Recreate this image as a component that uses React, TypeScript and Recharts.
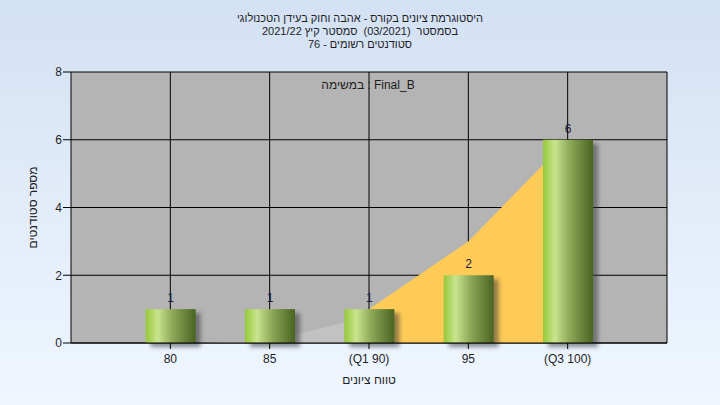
import React from 'react';
import { ComposedChart, Bar, Area, XAxis, YAxis, CartesianGrid, LabelList } from 'recharts';

const categories = [80, 85, 90, 95, 100];
const tickLabels = ['80', '85', '(Q1 90)', '95', '(Q3 100)'];
const counts = [1, 1, 1, 2, 6];
const lowerArea: (number | null)[] = [0, 0.05, 0.8, null, null];
const upperArea: (number | null)[] = [null, null, 1, 3, 6];
const yTicks = [0, 2, 4, 6, 8];

const titleLines = [
  ['היסטוגרמת', 'ציונים', 'בקורס', '-', 'אהבה', 'וחוק', 'בעידן', 'הטכנולוגי'],
  ['בסמסטר', '(03/2021)', 'סמסטר', 'קיץ', '2021/22'],
  ['סטודנטים', 'רשומים', '-', '76'],
];
const subtitleWords = ['במשימה', ':', 'Final_B'];
const xTitle = ['טווח', 'ציונים'];
const yTitle = ['מספר', 'סטודנטים'];

const data = categories.map((c, i) => ({
  x: c,
  count: counts[i],
  lower: lowerArea[i],
  upper: upperArea[i],
}));

const FONT = '"Liberation Sans", Arial, sans-serif';
const TEXT = '#1e1e1e';

const BarShape = (props: any) => {
  const { x, y, width, height } = props;
  if (!height || height <= 0) return null;
  return (
    <g>
      <rect x={x + 5} y={y + 4} width={width} height={height} fill="#3a3a3a" opacity={0.55} filter="url(#shadowBlur)" />
      <rect x={x} y={y} width={width} height={height} fill="url(#barGrad)" />
    </g>
  );
};

const WordLine = ({ words, dir, style }: { words: string[]; dir: 'rtl' | 'ltr'; style: React.CSSProperties }) => (
  <div
    style={{
      position: 'absolute',
      display: 'flex',
      flexDirection: 'row',
      justifyContent: 'center',
      alignItems: 'center',
      direction: dir,
      columnGap: '0.27em',
      whiteSpace: 'pre',
      ...style,
    }}
  >
    {words.map((w, i) => (
      <span
        key={i}
        dir="auto"
        style={w.startsWith('(0') ? { margin: '0 0.27em' } : undefined}
      >
        {w}
      </span>
    ))}
  </div>
);

export default function App() {
  const tickFmt = (v: number) => {
    const i = categories.indexOf(v);
    return i >= 0 ? tickLabels[i] : '';
  };
  return (
    <div
      style={{
        position: 'fixed',
        left: 0,
        top: 0,
        width: 720,
        height: 405,
        background: 'linear-gradient(180deg, #D3E1F4 0%, #E2ECF9 50%, #EFF6FF 100%)',
        fontFamily: FONT,
        color: TEXT,
      }}
    >
      <ComposedChart
        width={720}
        height={405}
        data={data}
        margin={{ top: 72, right: 0, bottom: 32, left: 0 }}
        style={{ fontFamily: FONT }}
      >
        <defs>
          <linearGradient id="barGrad" x1="0" y1="0" x2="1" y2="0">
            <stop offset="0%" stopColor="#96C83A" />
            <stop offset="24%" stopColor="#C9E48E" />
            <stop offset="55%" stopColor="#8AA656" />
            <stop offset="100%" stopColor="#4A6422" />
          </linearGradient>
          <filter id="shadowBlur" x="-20%" y="-20%" width="140%" height="140%">
            <feGaussianBlur stdDeviation="2" />
          </filter>
        </defs>
        <CartesianGrid
          yAxisId="left"
          stroke="#000"
          strokeOpacity={1}
          strokeWidth={1}
          horizontalValues={yTicks}
          verticalValues={categories}
          fill="#B4B4B4"
          fillOpacity={1}
        />
        <XAxis
          dataKey="x"
          type="number"
          domain={[75, 105]}
          ticks={categories}
          tickFormatter={tickFmt}
          allowDataOverflow
          height={30}
          axisLine={{ stroke: '#000' }}
          tickLine={{ stroke: '#000' }}
          tickSize={6}
          tickMargin={5}
          tick={{ fill: TEXT, fontSize: 12 }}
          interval={0}
        />
        <YAxis
          yAxisId="left"
          domain={[0, 8]}
          ticks={yTicks}
          width={71}
          axisLine={{ stroke: '#000' }}
          tickLine={{ stroke: '#000' }}
          tickSize={8}
          tickMargin={1}
          tick={{ fill: TEXT, fontSize: 12 }}
        />
        <YAxis
          yAxisId="right"
          orientation="right"
          domain={[0, 8]}
          ticks={yTicks}
          width={53}
          axisLine={{ stroke: '#000', strokeOpacity: 1 }}
          tickLine={{ stroke: '#000' }}
          tickSize={8}
          tickMargin={2}
          tick={{ fill: TEXT, fontSize: 12 }}
        />
        <Area
          yAxisId="left"
          dataKey="lower"
          type="linear"
          fill="#C2C2C2"
          fillOpacity={1}
          stroke="none"
          isAnimationActive={false}
        />
        <Area
          yAxisId="left"
          dataKey="upper"
          type="linear"
          fill="#FFCB57"
          fillOpacity={1}
          stroke="none"
          isAnimationActive={false}
        />
        <Bar yAxisId="left" dataKey="count" barSize={50} shape={<BarShape />} isAnimationActive={false}>
          <LabelList dataKey="count" position="top" offset={7} fill="#1a1a3a" fontSize={12} />
        </Bar>
      </ComposedChart>
      {titleLines.map((words, i) => (
        <WordLine
          key={i}
          words={words}
          dir="rtl"
          style={{ left: 0, width: 720, top: 12 + i * 13, height: 13, fontSize: 11, lineHeight: '13px' }}
        />
      ))}
      <WordLine
        words={subtitleWords}
        dir="ltr"
        style={{ left: 268, width: 200, top: 79, height: 13, fontSize: 12, lineHeight: '13px' }}
      />
      <WordLine
        words={xTitle}
        dir="rtl"
        style={{ left: 269, width: 200, top: 374, height: 13, fontSize: 12, lineHeight: '13px' }}
      />
      <WordLine
        words={yTitle}
        dir="rtl"
        style={{
          left: 33 - 100,
          width: 200,
          top: 207 - 6.5,
          height: 13,
          fontSize: 12,
          lineHeight: '13px',
          transform: 'rotate(-90deg)',
          transformOrigin: '50% 50%',
        }}
      />
    </div>
  );
}
